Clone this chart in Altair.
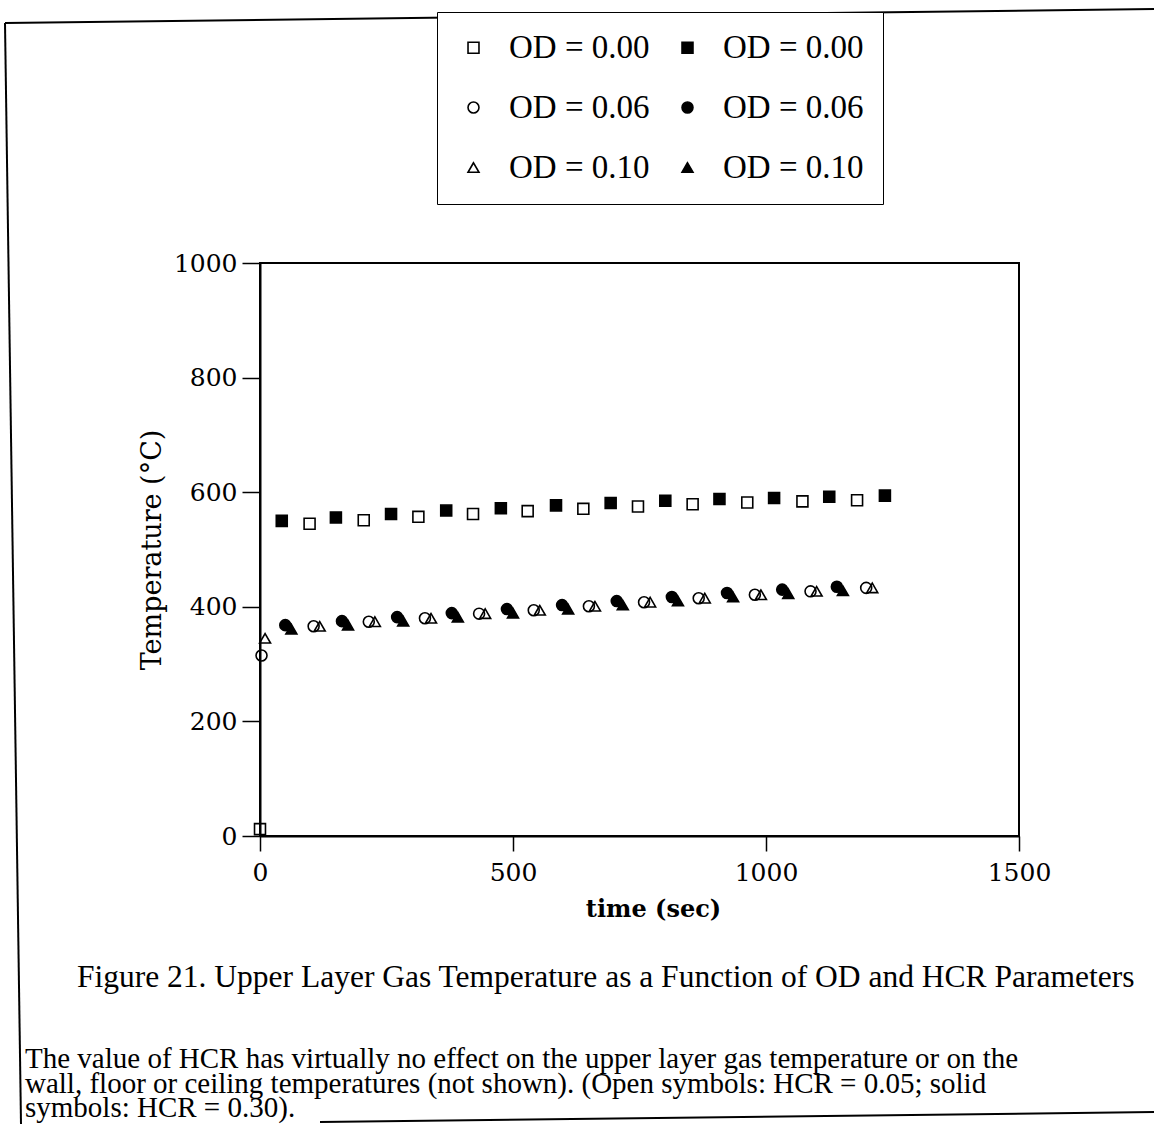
import altair as alt
import pandas as pd

# ---------------- data ----------------
series_keys = [
    "OD = 0.00|HCR = 0.05", "OD = 0.00|HCR = 0.30",
    "OD = 0.06|HCR = 0.05", "OD = 0.06|HCR = 0.30",
    "OD = 0.10|HCR = 0.05", "OD = 0.10|HCR = 0.30",
]
series_shapes = ["square", "square", "circle", "circle", "triangle-up", "triangle-up"]
series_fills = ["transparent", "black", "transparent", "black", "transparent", "black"]
series_strokes = ["black"] * 6

od000_open_t = [0, 98, 205, 313, 421, 529, 639, 747, 855, 963, 1072, 1180]
od000_open_T = [12, 545, 551, 557, 562, 567, 571, 575, 579, 582, 584, 586]
od000_solid_t = [43, 150, 259, 368, 476, 585, 693, 801, 908, 1016, 1125, 1235]
od000_solid_T = [550, 556, 562, 568, 572, 577, 581, 585, 588, 590, 592, 594]
od006_open_t = [3, 106, 215, 326, 433, 541, 650, 759, 867, 978, 1088, 1198]
od006_open_T = [315, 366, 374, 380, 388, 394, 401, 408, 415, 421, 427, 433]
od006_solid_t = [50, 162, 271, 379, 488, 597, 705, 814, 923, 1032, 1140]
od006_solid_T = [368, 375, 382, 389, 396, 403, 410, 417, 424, 430, 435]
od010_open_t = [10, 118, 227, 338, 445, 553, 662, 771, 879, 990, 1100, 1210]
od010_open_T = [345, 366, 374, 380, 388, 394, 401, 408, 415, 421, 427, 433]
od010_solid_t = [62, 174, 283, 391, 500, 609, 717, 826, 935, 1044, 1152]
od010_solid_T = [361, 368, 375, 382, 389, 396, 403, 410, 417, 423, 428]

x_ticks = [0, 500, 1000, 1500]
y_ticks = [0, 200, 400, 600, 800, 1000]

caption = "Figure 21. Upper Layer Gas Temperature as a Function of OD and HCR Parameters"
para1 = "The value of HCR has virtually no effect on the upper layer gas temperature or on the"
para2 = "wall, floor or ceiling temperatures (not shown). (Open symbols: HCR = 0.05; solid"
para3 = "symbols: HCR = 0.30)."

# ---------------- table ----------------
groups = [
    (series_keys[0], od000_open_t, od000_open_T),
    (series_keys[1], od000_solid_t, od000_solid_T),
    (series_keys[2], od006_open_t, od006_open_T),
    (series_keys[3], od006_solid_t, od006_solid_T),
    (series_keys[4], od010_open_t, od010_open_T),
    (series_keys[5], od010_solid_t, od010_solid_T),
]
rows = []
for key, ts, Ts in groups:
    for a, b in zip(ts, Ts):
        rows.append({"t": a, "T": b, "series": key})
df = pd.DataFrame(rows)

legend = alt.Legend(
    title=None, orient="none", legendX=177, legendY=-251, columns=2,
    direction="horizontal",
    labelExpr="split(datum.label, '|')[0]",
    labelFont="Liberation Serif", labelFontSize=33, labelColor="black",
    labelOffset=19, labelLimit=400,
    symbolSize=120, symbolStrokeWidth=1.6, symbolStrokeColor="black",
    symbolOffset=1,
    columnPadding=20, rowPadding=26, padding=19,
    strokeColor="black", fillColor="white",
)

points = alt.Chart(df).mark_point(filled=True, strokeWidth=1.6,
                                   opacity=1, size=120).encode(
    x=alt.X("t:Q", scale=alt.Scale(domain=[0, 1500], nice=False),
            axis=alt.Axis(values=x_ticks, format="d", title="time (sec)", grid=False,
                          tickSize=15, tickWidth=1.5, tickColor="black",
                          domainColor="black", domainWidth=2,
                          labelFont="DejaVu Serif", labelFontSize=25, labelColor="black",
                          labelPadding=9, labelFlush=False, labelOverlap=False,
                          titleFont="DejaVu Serif", titleFontSize=24, titleFontWeight="bold",
                          titleColor="black", titlePadding=12, titleX=393)),
    y=alt.Y("T:Q", scale=alt.Scale(domain=[0, 1000], nice=False),
            axis=alt.Axis(values=y_ticks, format="d", title="Temperature (°C)", grid=False,
                          tickSize=18, tickWidth=1.5, tickColor="black",
                          domainColor="black", domainWidth=2,
                          labelFont="DejaVu Serif", labelFontSize=25, labelColor="black",
                          labelPadding=5, labelFlush=False, labelOverlap=False,
                          titleFont="DejaVu Serif", titleFontSize=27, titleFontWeight="normal",
                          titleColor="black", titlePadding=7)),
    shape=alt.Shape("series:N", scale=alt.Scale(domain=series_keys, range=series_shapes), legend=legend),
    fill=alt.Fill("series:N", scale=alt.Scale(domain=series_keys, range=series_fills), legend=legend),
    stroke=alt.Stroke("series:N", scale=alt.Scale(domain=series_keys, range=series_strokes), legend=legend),
)

one = pd.DataFrame({"k": [0]})

def rule(x1, y1, x2, y2):
    return alt.Chart(one).mark_rule(color="black", strokeWidth=2).encode(
        x=alt.value(x1), y=alt.value(y1), x2=alt.value(x2), y2=alt.value(y2))

frame_top = rule(-255, -240, 894, -254)
frame_left = rule(-255, -240, -239, 861)
frame_bottom = rule(60, 859, 894, 849)

def text(s, x, y, size):
    return alt.Chart(pd.DataFrame({"s": [s]})).mark_text(
        align="left", baseline="alphabetic", font="Liberation Serif",
        fontSize=size, color="black").encode(
        x=alt.value(x), y=alt.value(y), text="s:N")

cap = text(caption, -183, 724, 31.5)
p1 = text(para1, -235, 805, 29)
p2 = text(para2, -235, 830, 29)
p3 = text(para3, -235, 854, 29)

chart = alt.layer(frame_top, frame_left, frame_bottom, points, cap, p1, p2, p3).properties(
    width=759, height=573,
    padding={"left": 260, "top": 263, "right": 135, "bottom": 288},
    autosize=alt.AutoSizeParams(type="none"),
    background="white",
).configure_view(stroke="black", strokeWidth=2)

chart.save("out.html", embed_options={"renderer": "svg", "actions": False})
